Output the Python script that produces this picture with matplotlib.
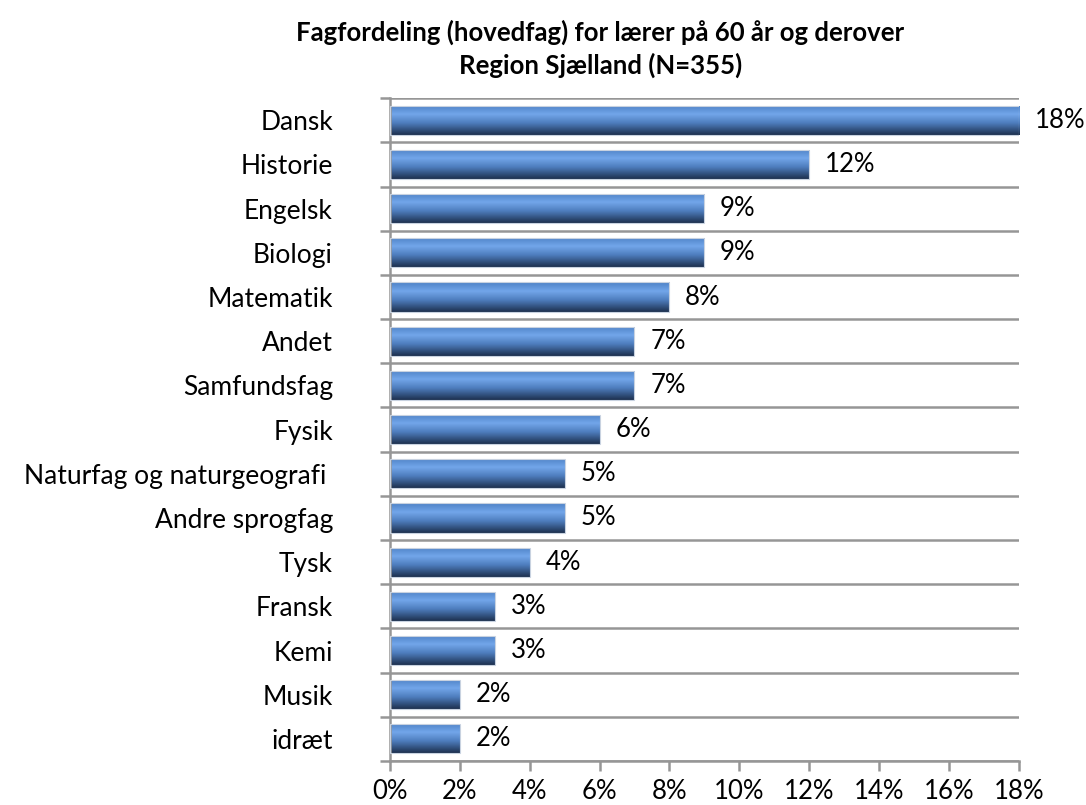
import matplotlib.pyplot as plt
import numpy as np
from matplotlib.colors import LinearSegmentedColormap

plt.rcParams['font.family'] = ['Lato', 'DejaVu Sans']

subjects = ['Dansk', 'Historie', 'Engelsk', 'Biologi', 'Matematik', 'Andet',
            'Samfundsfag', 'Fysik', 'Naturfag og naturgeografi ',
            'Andre sprogfag', 'Tysk', 'Fransk', 'Kemi', 'Musik', 'idræt']
shares = [18, 12, 9, 9, 8, 7, 7, 6, 5, 5, 4, 3, 3, 2, 2]
x_ticks = [0, 2, 4, 6, 8, 10, 12, 14, 16, 18]

grid_color = '#969696'
fs = 18.5
bar_cmap = LinearSegmentedColormap.from_list(
    'bar', [(0.0, '#4f82c6'), (0.3, '#72a6ea'), (0.6, '#4e7dbd'),
            (1.0, '#1d3150')])

fig = plt.figure(figsize=(10.86, 8.05), dpi=100)
ax = fig.add_axes([0.359, 0.0547, 0.5792, 0.8233])

y = np.arange(len(subjects))
bar_h = 0.66
bars = ax.barh(y, shares, height=bar_h, color='none', edgecolor='#c8d2e0',
               linewidth=0.8, zorder=3)

grad = np.linspace(0, 1, 64).reshape(-1, 1)
for b in bars:
    x0, y0 = b.get_x(), b.get_y()
    w, h = b.get_width(), b.get_height()
    im = ax.imshow(grad, cmap=bar_cmap, aspect='auto',
                   extent=(x0, x0 + w, y0 + h, y0), zorder=2,
                   interpolation='bilinear')
    im.set_clip_path(b)

for yi, v in zip(y, shares):
    ax.text(v + 0.45, yi, f'{v}%', va='center', ha='left', fontsize=fs,
            color='black')

# horizontal separators between categories
for b in np.arange(-0.5, len(subjects), 1.0):
    ax.plot([0, 18], [b, b], color=grid_color, lw=1.8, zorder=1,
            solid_capstyle='butt')

ax.set_xlim(0, 18)
ax.set_ylim(len(subjects) - 0.5, -0.5)
ax.set_xticks(x_ticks)
ax.set_xticklabels([f'{t}%' for t in x_ticks], fontsize=fs)
ax.set_yticks(y)
ax.set_yticklabels(subjects, fontsize=19)
ax.tick_params(axis='y', length=0, pad=41)
ax.set_yticks(np.arange(-0.5, len(subjects), 1.0), minor=True)
ax.tick_params(axis='y', which='minor', length=7, width=1.8,
               color=grid_color)
ax.tick_params(axis='x', length=7, width=1.8, color=grid_color, pad=6)

for s in ['top', 'right']:
    ax.spines[s].set_visible(False)
for s in ['left', 'bottom']:
    ax.spines[s].set_color(grid_color)
    ax.spines[s].set_linewidth(1.8)

fig.suptitle('Fagfordeling (hovedfag) for lærer på 60 år og derover\n'
             'Region Sjælland (N=355)', x=0.553, y=0.975,
             fontsize=18.5, fontweight='bold', linespacing=1.35)

fig.savefig('out.png', dpi=100)
